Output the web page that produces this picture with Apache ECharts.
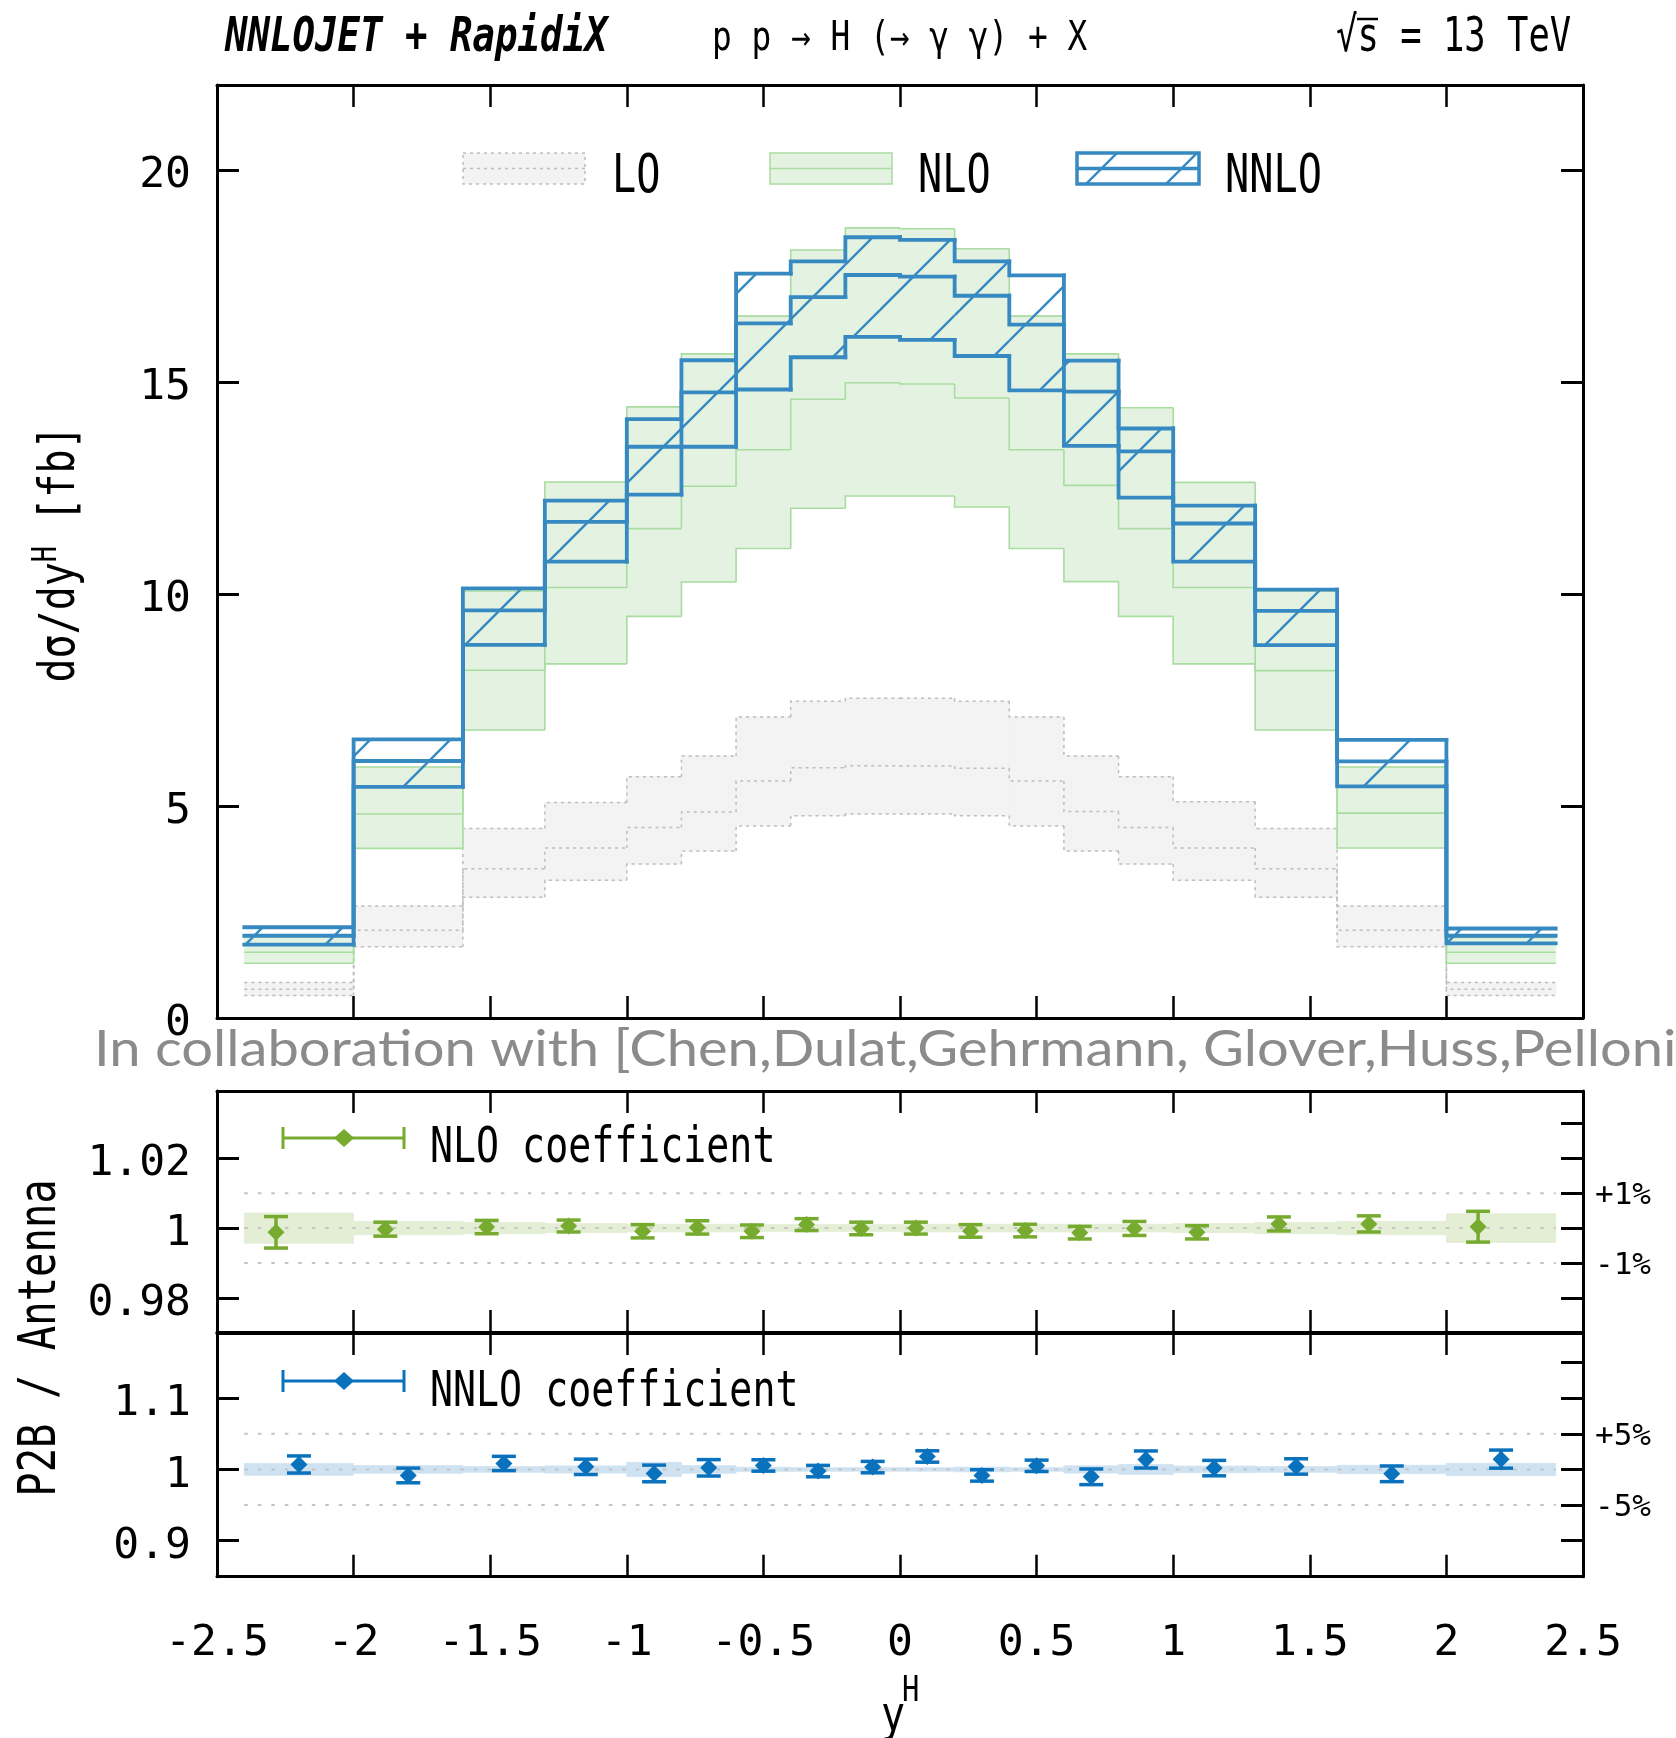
<!DOCTYPE html>
<html><head><meta charset="utf-8">
<script src="https://cdn.jsdelivr.net/npm/echarts@6/dist/echarts.min.js"></script>
<style>html,body{margin:0;padding:0;background:#fff}#c{width:1676px;height:1738px}</style>
</head><body><div id="c"></div>
<script>
// ---------------- data ----------------
const binEdges = [-2.4,-2.0,-1.6,-1.3,-1.0,-0.8,-0.6,-0.4,-0.2,0,0.2,0.4,0.6,0.8,1.0,1.3,1.6,2.0,2.4];

const loUp  = [0.84,2.64,4.47,5.08,5.69,6.18,7.10,7.47,7.54,7.54,7.47,7.10,6.18,5.69,5.10,4.47,2.64,0.84];
const loCen = [0.68,2.07,3.52,4.01,4.49,4.86,5.59,5.90,5.95,5.94,5.89,5.59,4.87,4.49,4.01,3.52,2.07,0.68];
const loDn  = [0.53,1.68,2.85,3.25,3.63,3.94,4.53,4.77,4.81,4.81,4.77,4.53,3.94,3.63,3.25,2.85,1.68,0.53];

const nloUp  = [1.92,5.92,10.07,12.64,14.41,15.66,16.55,18.11,18.63,18.61,18.14,16.55,15.66,14.39,12.63,10.07,5.92,1.90];
const nloCen = [1.55,4.81,8.20,10.15,11.54,12.54,13.40,14.59,14.98,14.95,14.62,13.40,12.56,11.54,10.15,8.19,4.83,1.55];
const nloDn  = [1.29,4.00,6.79,8.35,9.47,10.28,11.07,12.02,12.31,12.31,12.05,11.07,10.29,9.47,8.35,6.79,4.01,1.29];

const nnloUp  = [2.14,6.57,10.13,12.20,14.12,15.51,17.55,17.84,18.41,18.35,17.84,17.51,15.50,13.90,12.08,10.10,6.56,2.11];
const nnloCen = [1.94,6.06,9.61,11.70,13.47,14.75,16.38,17.00,17.52,17.48,17.03,16.35,14.77,13.36,11.66,9.60,6.05,1.94];
const nnloDn  = [1.73,5.45,8.80,10.76,12.34,13.47,14.82,15.58,16.06,15.99,15.61,14.80,13.49,12.27,10.76,8.79,5.46,1.76];

const nloRatio     = [0.9988,0.9997,1.0003,1.0006,0.9991,1.0002,0.9991,1.0010,0.9999,1.0000,0.9992,0.9993,0.9987,0.9999,0.9988,1.0012,1.0012,1.0004];
const nloRatioErr  = [0.0045,0.0020,0.0019,0.0017,0.0019,0.0019,0.0018,0.0017,0.0018,0.0017,0.0018,0.0018,0.0018,0.0020,0.0019,0.0020,0.0023,0.0044];
const nloRatioBand = [0.0043,0.0019,0.0016,0.0013,0.0011,0.0011,0.0010,0.0010,0.0010,0.0011,0.0011,0.0011,0.0011,0.0011,0.0013,0.0016,0.0019,0.0041];

const nnloRatio     = [1.0070,0.9916,1.0084,1.0037,0.9944,1.0023,1.0056,0.9977,1.0033,1.0182,0.9916,1.0051,0.9897,1.0140,1.0019,1.0042,0.9939,1.0145];
const nnloRatioErr  = [0.0120,0.0103,0.0100,0.0108,0.0117,0.0115,0.0080,0.0080,0.0080,0.0080,0.0080,0.0080,0.0110,0.0120,0.0108,0.0108,0.0110,0.0127];
const nnloRatioBand = [0.0082,0.0054,0.0040,0.0050,0.0100,0.0054,0.0030,0.0024,0.0024,0.0024,0.0033,0.0024,0.0051,0.0070,0.0047,0.0040,0.0058,0.0086];

const mainYTicks = [0,5,10,15,20];
const r1YTicks = [0.98,1,1.02];
const r1RightTicks = [0.98,0.99,1,1.01,1.02,1.03];
const r1PctLabels = [0.99,1.01];
const r1RefLines = [0.99,1,1.01];
const r2YTicks = [0.9,1,1.1];
const r2RightTicks = [0.9,0.95,1,1.05,1.1,1.15];
const r2PctLabels = [0.95,1.05];
const r2RefLines = [0.95,1,1.05];

// ---------------- styles ----------------
const MONO = 'DejaVu Sans Mono';
const LO_FILL = '#f3f3f3', LO_LINE = '#bdbdbd';
const NLO_FILL = '#e4f3e1', NLO_LINE = '#a9dca0';
const NNLO_C = '#3689c1';
const R_NLO = '#76ab2f', R_NLO_BAND = '#e3eed5';
const R_NNLO = '#0a72bd', R_NNLO_BAND = '#cfe2f1';

// hatch pattern
const pat = document.createElement('canvas');
pat.width = 80; pat.height = 80;
(function(){
  const g = pat.getContext('2d');
  g.strokeStyle = NNLO_C; g.lineWidth = 2.4;
  [70,150].forEach(k => { g.beginPath(); g.moveTo(k+20,-20); g.lineTo(-20,k+20); g.stroke(); });
})();
const hatch = {image: pat, repeat: 'repeat'};

// ---------------- helpers ----------------
function stepBand(up, cen, dn, st) {
  return function(params, api) {
    const i = params.dataIndex;
    const x0 = binEdges[i], x1 = binEdges[i+1];
    const ch = [];
    const a = api.coord([x0, up[i]]), b = api.coord([x1, dn[i]]);
    if (st.fill) {
      ch.push({type:'rect', shape:{x:a[0], y:a[1], width:b[0]-a[0], height:b[1]-a[1]},
        style: st.fillStroke ? {fill: st.fill, stroke: st.fill, lineWidth: 1} : {fill: st.fill}, z2: 0});
    }
    [up, cen, dn].forEach(arr => {
      const pts = [];
      if (i > 0) pts.push(api.coord([x0, arr[i-1]]));
      pts.push(api.coord([x0, arr[i]]), api.coord([x1, arr[i]]));
      ch.push({type:'polyline', shape:{points: pts},
        style:{stroke: st.line, lineWidth: st.lw, lineDash: st.dash || null, fill: null, lineCap: st.cap || 'butt', lineJoin:'miter'}, z2: 2});
    });
    return {type:'group', children: ch};
  };
}
function bandRender(vals, color) {
  return function(params, api) {
    const i = params.dataIndex;
    const a = api.coord([binEdges[i], 1 + vals[i]]), b = api.coord([binEdges[i+1], 1 - vals[i]]);
    return {type:'rect', shape:{x:a[0], y:a[1], width:b[0]-a[0], height:b[1]-a[1]},
      style:{fill: color, stroke: color, lineWidth: 0.8}};
  };
}
function refRender(params, api) {
  const v = api.value(0);
  const a = api.coord([binEdges[0], v]), b = api.coord([binEdges[binEdges.length-1], v]);
  return {type:'line', shape:{x1:a[0], y1:a[1], x2:b[0], y2:b[1]},
    style:{stroke:'#c4c4c4', lineWidth:2, lineDash:[3.5,10]}};
}
function errRender(vals, errs, color, shift) {
  return function(params, api) {
    const i = params.dataIndex;
    const w = binEdges[i+1] - binEdges[i];
    const x = (binEdges[i] + binEdges[i+1]) / 2 + shift * w;
    const c = api.coord([x, vals[i]]);
    const t = api.coord([x, vals[i] + errs[i]]), bt = api.coord([x, vals[i] - errs[i]]);
    const s = {stroke: color, lineWidth: 3.5};
    return {type:'group', children:[
      {type:'line', shape:{x1:c[0], y1:t[1], x2:c[0], y2:bt[1]}, style:s},
      {type:'line', shape:{x1:c[0]-12, y1:t[1], x2:c[0]+12, y2:t[1]}, style:s},
      {type:'line', shape:{x1:c[0]-12, y1:bt[1], x2:c[0]+12, y2:bt[1]}, style:s},
      {type:'polygon', shape:{points:[[c[0], c[1]-8.5],[c[0]+8.5, c[1]],[c[0], c[1]+8.5],[c[0]-8.5, c[1]]]}, style:{fill: color}}
    ]};
  };
}
function xAx(grid, pos, showLabel) {
  return {type:'value', gridIndex:grid, position:pos, min:-2.5, max:2.5, interval:0.5,
    axisLine:{show:true, onZero:false, lineStyle:{color:'#000', width:3}},
    axisTick:{show:true, inside:true, length:22, lineStyle:{color:'#000', width:2.5}},
    axisLabel:{show:showLabel, margin:46, fontFamily:MONO, fontSize:43, color:'#000'},
    splitLine:{show:false}};
}
function yAx(grid, pos, min, max, ticks, labels, fmt) {
  const right = pos === 'right';
  const fs = right ? 31 : 43;
  const f = fmt || (v => String(v));
  return {type:'value', gridIndex:grid, position:pos, min:min, max:max,
    axisLine:{show:true, onZero:false, lineStyle:{color:'#000', width:3}},
    axisTick:{show:true, inside:true, length:22, customValues:ticks, lineStyle:{color:'#000', width:3}},
    axisLabel:{show: !!labels, customValues: labels || [], formatter: v => '{v|' + f(v) + '}',
      margin: right ? 12 : 26, fontFamily:MONO, fontSize: fs, color:'#000',
      rich:{v:{fontFamily:MONO, fontSize:fs, color:'#000', padding:[right ? 6 : 12, 0, 0, 0]}}},
    splitLine:{show:false}};
}
const pctFmt = v => (v > 1 ? '+' : '-') + Math.round(Math.abs(v - 1) * 100) + '%';

function T(x, y, text, size, sx, o) {
  o = o || {};
  return {type:'text', x:x, y:y, scaleX:sx, rotation:o.rot || 0, z:100,
    style:{text:text, fontFamily:o.family || MONO, fontSize:size, fontWeight:o.weight || 'normal', fontStyle:o.style || 'normal',
      fill:o.fill || '#000', align:o.align || 'left', verticalAlign:'middle',
      textAlign:o.align || 'left', textVerticalAlign:'middle', rich:o.rich}};
}

const idx = binEdges.slice(1).map((e, i) => [binEdges[i], e]);

// ---------------- chart ----------------
const chart = echarts.init(document.getElementById('c'), null, {renderer:'canvas', width:1676, height:1738, devicePixelRatio:1});

const graphic = [
  T(225, 39, 'NNLOJET + RapidiX', 47, 0.795, {weight:'bold', style:'italic'}),
  T(712, 40, 'p p → H (→ γ γ) + X', 40, 0.82),
  T(1336, 39, '√s = 13 TeV', 48, 0.74),
  {type:'line', z:100, shape:{x1:1357, y1:19, x2:1378, y2:19}, style:{stroke:'#000', lineWidth:2.5}},
  // main legend
  {type:'rect', z:100, shape:{x:463, y:153, width:122, height:31}, style:{fill:LO_FILL, stroke:LO_LINE, lineWidth:1.5, lineDash:[3,4]}},
  {type:'line', z:100, shape:{x1:463, y1:168.5, x2:585, y2:168.5}, style:{stroke:LO_LINE, lineWidth:1.5, lineDash:[3,4]}},
  T(612, 178, 'LO', 53, 0.76),
  {type:'rect', z:100, shape:{x:770, y:153, width:122, height:31}, style:{fill:NLO_FILL, stroke:NLO_LINE, lineWidth:1.5}},
  {type:'line', z:100, shape:{x1:770, y1:168.5, x2:892, y2:168.5}, style:{stroke:NLO_LINE, lineWidth:1.5}},
  T(918, 178, 'NLO', 53, 0.76),
  {type:'rect', z:100, shape:{x:1077, y:153, width:122, height:31}, style:{fill:hatch, stroke:NNLO_C, lineWidth:3.5}},
  {type:'line', z:100, shape:{x1:1077, y1:168.5, x2:1199, y2:168.5}, style:{stroke:NNLO_C, lineWidth:3.5}},
  T(1225, 178, 'NNLO', 53, 0.76),
  // collaboration text
  T(94, 1050, 'In collaboration with [Chen,Dulat,Gehrmann, Glover,Huss,Pelloni', 51, 1.1, {family:'Lato', fill:'#898c89'}),
  // ratio legends
  {type:'line', z:100, shape:{x1:282, y1:1138, x2:405, y2:1138}, style:{stroke:R_NLO, lineWidth:3}},
  {type:'line', z:100, shape:{x1:283, y1:1127, x2:283, y2:1149}, style:{stroke:R_NLO, lineWidth:3}},
  {type:'line', z:100, shape:{x1:404, y1:1127, x2:404, y2:1149}, style:{stroke:R_NLO, lineWidth:3}},
  {type:'polygon', z:100, shape:{points:[[344,1129],[354,1138],[344,1147],[334,1138]]}, style:{fill:R_NLO}},
  T(430, 1149, 'NLO coefficient', 50, 0.765),
  {type:'line', z:100, shape:{x1:282, y1:1381, x2:405, y2:1381}, style:{stroke:R_NNLO, lineWidth:3}},
  {type:'line', z:100, shape:{x1:283, y1:1370, x2:283, y2:1392}, style:{stroke:R_NNLO, lineWidth:3}},
  {type:'line', z:100, shape:{x1:404, y1:1370, x2:404, y2:1392}, style:{stroke:R_NNLO, lineWidth:3}},
  {type:'polygon', z:100, shape:{points:[[344,1372],[354,1381],[344,1390],[334,1381]]}, style:{fill:R_NNLO}},
  T(430, 1393, 'NNLO coefficient', 50, 0.765),
  // axis names
  T(61, 554, '{a|dσ/dy}{s|H}{a| [fb]}', 50, 0.8, {rot:Math.PI/2, align:'center',
    rich:{a:{fontFamily:MONO, fontSize:50, fill:'#000', lineHeight:62}, s:{fontFamily:MONO, fontSize:34, fill:'#000', verticalAlign:'top', lineHeight:62}}}),
  T(41, 1338, 'P2B / Antenna', 52, 0.78, {rot:Math.PI/2, align:'center'}),
  T(881, 1718, 'y', 50, 0.8),
  T(902, 1692, 'H', 36, 0.8)
];

const option = {
  animation: false,
  backgroundColor: '#fff',
  grid: [
    {left:217, top:85, width:1366, height:933, outerBoundsMode:'none', containLabel:false},
    {left:217, top:1091, width:1366, height:241, outerBoundsMode:'none', containLabel:false},
    {left:217, top:1333, width:1366, height:243.7, outerBoundsMode:'none', containLabel:false}
  ],
  xAxis: [xAx(0,'bottom',false), xAx(0,'top',false), xAx(1,'bottom',false), xAx(1,'top',false), xAx(2,'bottom',true), xAx(2,'top',false)],
  yAxis: [
    yAx(0,'left',0,22,mainYTicks,mainYTicks),
    yAx(0,'right',0,22,mainYTicks,null),
    yAx(1,'left',0.9703,1.0392,r1YTicks,r1YTicks),
    yAx(1,'right',0.9703,1.0392,r1RightTicks,r1PctLabels,pctFmt),
    yAx(2,'left',0.8495,1.1915,r2YTicks,r2YTicks),
    yAx(2,'right',0.8495,1.1915,r2RightTicks,r2PctLabels,pctFmt)
  ],
  series: [
    {type:'custom', name:'LO', xAxisIndex:0, yAxisIndex:0, z:2, data: idx.map((e,i)=>[e[0],e[1],loUp[i],loCen[i],loDn[i]]), encode:{x:[0,1], y:[2,3,4]},
      renderItem: stepBand(loUp, loCen, loDn, {fill:LO_FILL, fillStroke:true, line:LO_LINE, lw:1.5, dash:[3,4]})},
    {type:'custom', name:'NLO', xAxisIndex:0, yAxisIndex:0, z:3, data: idx.map((e,i)=>[e[0],e[1],nloUp[i],nloCen[i],nloDn[i]]), encode:{x:[0,1], y:[2,3,4]},
      renderItem: stepBand(nloUp, nloCen, nloDn, {fill:NLO_FILL, fillStroke:true, line:NLO_LINE, lw:1.6})},
    {type:'custom', name:'NNLO', xAxisIndex:0, yAxisIndex:0, z:4, data: idx.map((e,i)=>[e[0],e[1],nnloUp[i],nnloCen[i],nnloDn[i]]), encode:{x:[0,1], y:[2,3,4]},
      renderItem: stepBand(nnloUp, nnloCen, nnloDn, {fill:hatch, line:NNLO_C, lw:3.8, cap:'square'})},

    {type:'custom', xAxisIndex:2, yAxisIndex:2, z:2, data: idx.map((e,i)=>[e[0],e[1],1+nloRatioBand[i],1-nloRatioBand[i]]), encode:{x:[0,1], y:[2,3]},
      renderItem: bandRender(nloRatioBand, R_NLO_BAND)},
    {type:'custom', xAxisIndex:2, yAxisIndex:2, z:3, data: r1RefLines.map(v=>[v]), encode:{y:0}, renderItem: refRender},
    {type:'custom', xAxisIndex:2, yAxisIndex:2, z:4, data: idx.map((e,i)=>[e[0],e[1],nloRatio[i],nloRatioErr[i]]), encode:{x:[0,1], y:2},
      renderItem: errRender(nloRatio, nloRatioErr, R_NLO, -0.21)},

    {type:'custom', xAxisIndex:4, yAxisIndex:4, z:2, data: idx.map((e,i)=>[e[0],e[1],1+nnloRatioBand[i],1-nnloRatioBand[i]]), encode:{x:[0,1], y:[2,3]},
      renderItem: bandRender(nnloRatioBand, R_NNLO_BAND)},
    {type:'custom', xAxisIndex:4, yAxisIndex:4, z:3, data: r2RefLines.map(v=>[v]), encode:{y:0}, renderItem: refRender},
    {type:'custom', xAxisIndex:4, yAxisIndex:4, z:4, data: idx.map((e,i)=>[e[0],e[1],nnloRatio[i],nnloRatioErr[i]]), encode:{x:[0,1], y:2},
      renderItem: errRender(nnloRatio, nnloRatioErr, R_NNLO, 0)}
  ],
  graphic: graphic
};
chart.setOption(option);
</script>
</body></html>
